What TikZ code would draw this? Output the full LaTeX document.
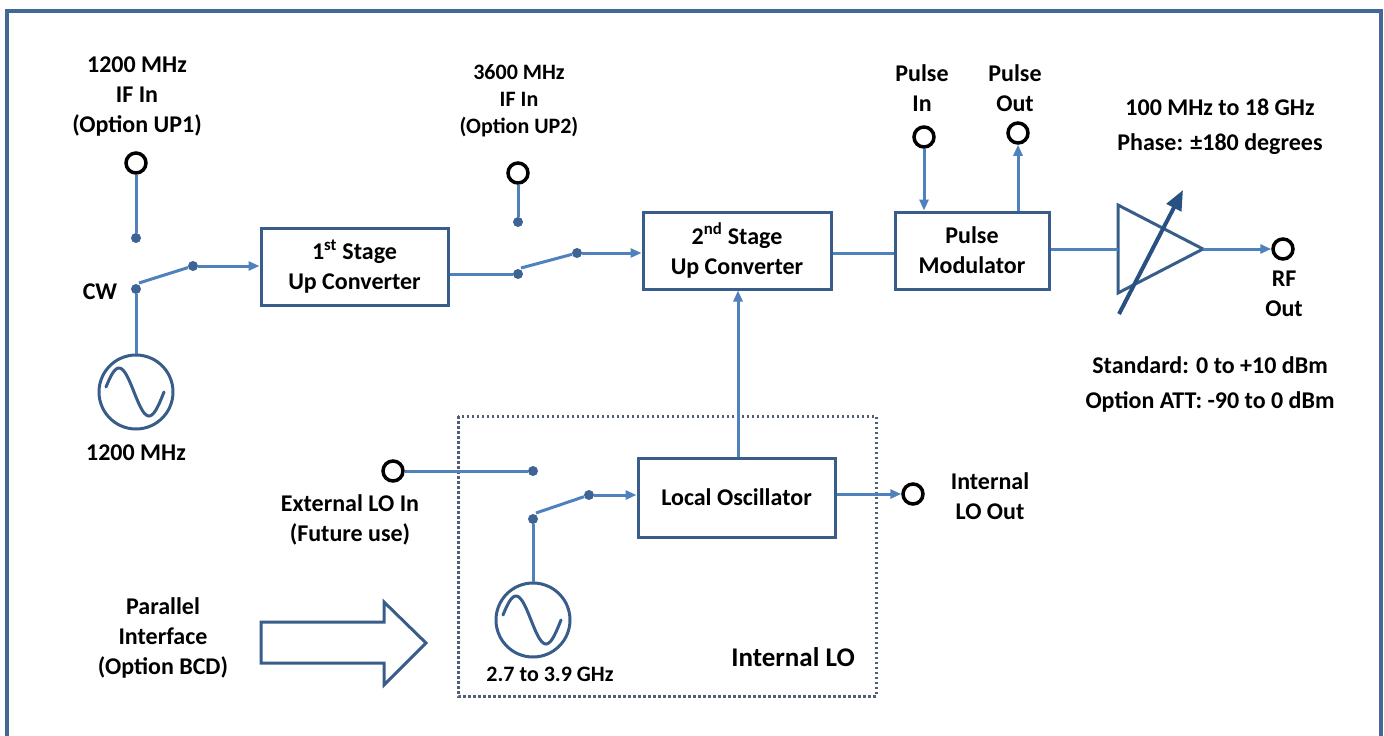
\documentclass[tikz,border=0pt]{standalone}
\usepackage{fontspec}
\setmainfont{Carlito}
\usetikzlibrary{arrows.meta,calc}
\definecolor{lineblue}{RGB}{79,129,189}
\definecolor{boxblue}{RGB}{56,93,138}
\definecolor{frameblue}{RGB}{68,104,150}
\definecolor{dotgrey}{RGB}{80,94,118}
\definecolor{arrblue}{RGB}{40,80,130}
\tikzset{
  blk/.style={draw=boxblue, line width=3pt, align=center, inner sep=0pt, fill=white, font=\fontsize{24}{30}\selectfont\bfseries},
  port/.style={circle, draw=black, line width=3.5pt, minimum size=20pt, inner sep=0pt, fill=white},
  jdot/.style={circle, fill=boxblue!80!lineblue, minimum size=10pt, inner sep=0pt},
  osc/.style={circle, draw=boxblue, line width=3pt, minimum size=74pt, inner sep=0pt},
  conn/.style={draw=lineblue, line width=3pt},
  arr/.style={conn, -{Triangle[length=11pt,width=9pt]}},
  lbl/.style={align=center, inner sep=0pt, font=\fontsize{24}{30}\selectfont\bfseries},
  slbl/.style={align=center, inner sep=0pt, font=\fontsize{22}{27}\selectfont\bfseries},
  wlbl/.style={align=center, inner sep=0pt, font=\fontsize{24}{35}\selectfont\bfseries},
}
\begin{document}
\begin{tikzpicture}[x=1pt,y=-1pt]
\useasboundingbox (0,0) rectangle (1384,736);
\fill[white] (0,0) rectangle (1384,736);
\draw[frameblue, line width=3.5pt] (7,11) -- (1381,11) -- (1381,745) -- (7,745) -- cycle;

% dotted internal LO region
\draw[dotgrey, line width=3pt, dash pattern=on 2.5pt off 2.5pt] (458,416) rectangle (876,696);

% blocks
\node[blk, minimum width=187pt, minimum height=77pt] (b1) at (354.5,266.5) {1\textsuperscript{st} Stage\\Up Converter};
\node[blk, minimum width=188pt, minimum height=77pt] (b2) at (737,250.5) {2\textsuperscript{nd} Stage\\Up Converter};
\node[blk, minimum width=154pt, minimum height=77pt] (pm) at (972,250.5) {Pulse\\Modulator};
\node[blk, minimum width=197pt, minimum height=79pt] (lo) at (736.5,497.5) {Local Oscillator};

% ports
\node[port] (p1) at (136,163) {};
\node[port] (p2) at (518,173) {};
\node[port] (pin) at (924,137) {};
\node[port] (pout) at (1018,133) {};
\node[port] (rf) at (1283,249) {};
\node[port] (ext) at (393,471) {};
\node[port] (ilo) at (913,494) {};

% junction dots
\node[jdot] (d1) at (136,238) {};
\node[jdot] (cw) at (136,289) {};
\node[jdot] (s1) at (193,266) {};
\node[jdot] (d2) at (518,222) {};
\node[jdot] (d3) at (518,274) {};
\node[jdot] (s2) at (577,253) {};
\node[jdot] (d4) at (533,471) {};
\node[jdot] (d5) at (533,519) {};
\node[jdot] (s3) at (589,495) {};

% oscillators
\node[osc] (o1) at (136,392) {};
\node[osc] (o2) at (533,620) {};
\foreach \o in {o1,o2}{
  \begin{scope}[shift={(\o.center)}]
    \draw[boxblue, line width=3pt, line cap=round] plot[smooth, domain=-30:28, samples=40] ({\x},{-24*sin(6*(\x+32))});
  \end{scope}
}

% amplifier
\coordinate (ain) at (1118,249);
\coordinate (aout) at (1203,249);
\draw[boxblue, line width=3pt, line join=miter] (1118,205) -- (aout) -- (1118,293) -- cycle;
\coordinate (va) at (1119,314);
\coordinate (vb) at (1183,190);
\draw[arrblue, line width=4pt, -{Triangle[length=20pt,width=16pt]}] (va) -- (vb);

% connectors, top chain
\draw[conn] (p1) -- (d1);
\draw[conn] (o1) -- (cw);
\draw[conn] ($(cw)+(3,-6)$) -- (s1);
\draw[arr] (s1) -- (s1 -| b1.west);
\draw[conn] (d3 -| b1.east) -- (d3);
\draw[conn] (p2) -- (d2);
\draw[conn] ($(d3)+(3,-6)$) -- (s2);
\draw[arr] (s2) -- (s2 -| b2.west);
\draw[conn] (b2.east |- 0,253) -- (pm.west |- 0,253);
\draw[arr] (pin) -- (pin |- pm.north);
\draw[arr] (pout |- pm.north) -- (pout);
\draw[conn] (pm.east |- ain) -- (ain);
\draw[arr] (aout) -- (rf);
\draw[arr] (lo.north -| 738,0) -- (b2.south -| 738,0);

% connectors, LO
\draw[conn] (ext) -- (d4);
\draw[conn] (o2) -- (d5);
\draw[conn] ($(d5)+(3,-6)$) -- (s3);
\draw[arr] (s3) -- (s3 -| lo.west);
\draw[arr] (lo.east |- ilo) -- (ilo);

% big hollow arrow
\draw[boxblue, line width=3pt, line join=miter, fill=white]
  (261,622) -- (384,622) -- (384,602) -- (426,643) -- (384,685) -- (384,663) -- (261,663) -- cycle;

% labels
\node[lbl] (t1) at (137,97) {1200 MHz\\IF In\\(Option UP1)};
\node[lbl] (tcw) at (100,292) {CW};
\node[lbl] (t1200) at (136,453) {1200 MHz};
\node[slbl] (t2) at (519,101) {3600 MHz\\IF In\\(Option UP2)};
\node[lbl] (tpin) at (922,88) {Pulse\\In};
\node[lbl] (tpout) at (1015,88) {Pulse\\Out};
\node[wlbl] (tfreq) at (1220,127) {100 MHz to 18 GHz\\Phase: ±180 degrees};
\node[lbl] (trf) at (1284,294) {RF\\Out};
\node[wlbl] (tpow) at (1210,384) {Standard: 0 to +10 dBm\\Option ATT: -90 to 0 dBm};
\node[lbl] (text) at (350,520) {External LO In\\(Future use)};
\node[lbl] (tilo) at (990,496) {Internal\\LO Out};
\node[lbl] (tpar) at (163,638) {Parallel\\Interface\\(Option BCD)};
\node[slbl] (tosc2) at (550,674) {2.7 to 3.9 GHz};
\node[align=center, inner sep=0pt, font=\fontsize{27}{34}\selectfont\bfseries] (tint) at (793,657) {Internal LO};
\end{tikzpicture}
\end{document}
